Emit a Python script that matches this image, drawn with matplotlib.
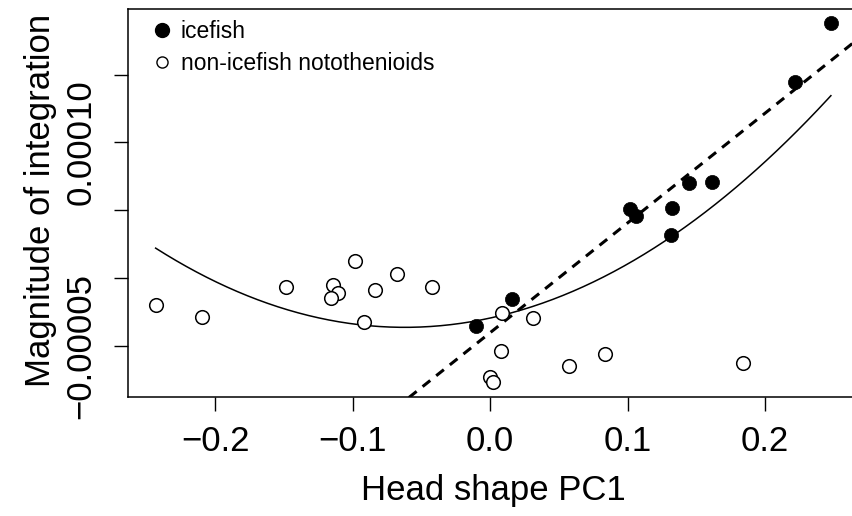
import numpy as np
import matplotlib
matplotlib.use("Agg")
import matplotlib.pyplot as plt
from matplotlib.lines import Line2D

plt.rcParams["font.family"] = ["Liberation Sans", "DejaVu Sans"]

# icefish (filled)
ice_pc1 = [0.2479, 0.2221, 0.1616, 0.1445, 0.1326, 0.1020, 0.1065, 0.1313, 0.0163, -0.0099]
ice_integ = [1.884e-4, 1.449e-4, 7.11e-5, 6.99e-5, 5.14e-5, 5.07e-5, 4.58e-5, 3.17e-5, -1.57e-5, -3.54e-5]

# non-icefish notothenioids (open)
non_pc1 = [-0.2432, -0.2098, -0.1486, -0.1139, -0.1105, -0.1156, -0.0983, -0.0918, -0.0833,
           -0.0677, -0.0425, 0.0088, 0.0309, 0.0082, 0.0000, 0.0020, 0.0575, 0.0833, 0.1840]
non_integ = [-1.99e-5, -2.85e-5, -6.4e-6, -5.2e-6, -1.13e-5, -1.50e-5, 1.28e-5, -3.27e-5, -8.9e-6,
             3.0e-6, -6.4e-6, -2.61e-5, -2.93e-5, -5.39e-5, -7.28e-5, -7.65e-5, -6.47e-5, -5.63e-5, -6.25e-5]

# fitted models
quad_vertex_x = -0.062
quad_vertex_y = -3.64e-5
quad_a = 1.78e-3
lin_slope = 8.10e-4
lin_intercept = -4.04e-5

xticks = [-0.2, -0.1, 0.0, 0.1, 0.2]
xticklabels = ["\u22120.2", "\u22120.1", "0.0", "0.1", "0.2"]
yticks = [-5e-5, 0.0, 5e-5, 1e-4, 1.5e-4]
yticklabels = ["\u22120.00005", "", "", "0.00010", ""]

W, H = 853, 516
xlim = (-0.2633, 0.2675)
ylim = (-8.78e-5, 1.985e-4)
ax_left, ax_top, ax_bottom = 128, 9, 397
ax_w = (xlim[1] - xlim[0]) * 1375

fig = plt.figure(figsize=(W / 100, H / 100), dpi=100)
ax = fig.add_axes([ax_left / W, (H - ax_bottom) / H, ax_w / W, (ax_bottom - ax_top) / H])

ax.plot(non_pc1, non_integ, "o", ms=9.8, mfc="white", mec="black", mew=1.1, ls="none", zorder=3)
ax.plot(ice_pc1, ice_integ, "o", ms=10.2, mfc="black", mec="black", mew=0.5, ls="none", zorder=3)

all_x = np.array(non_pc1 + ice_pc1)
xs = np.linspace(all_x.min(), all_x.max(), 200)
ax.plot(xs, quad_a * (xs - quad_vertex_x) ** 2 + quad_vertex_y, color="black", lw=1.1, zorder=2)

xl = np.array(xlim)
ax.plot(xl, lin_slope * xl + lin_intercept, color="black", lw=2.2, ls=(0, (3.2, 2.5)), zorder=2)

ax.set_xlim(*xlim)
ax.set_ylim(*ylim)
ax.set_xticks(xticks)
ax.set_xticklabels(xticklabels)
ax.set_yticks(yticks)
ax.set_yticklabels(yticklabels, rotation=90, va="center")
ax.tick_params(axis="both", length=10, width=1, labelsize=25, color="black")
ax.tick_params(axis="x", pad=10)
ax.tick_params(axis="y", pad=12)
for s in ax.spines.values():
    s.set_linewidth(1.1)

ax.set_xlabel("Head shape PC1", fontsize=25)
ax.set_ylabel("Magnitude of integration", fontsize=25)
ax.xaxis.set_label_coords((493 - ax_left) / ax_w, (ax_bottom - 474) / (ax_bottom - ax_top))
ax.yaxis.set_label_coords((57 - ax_left) / ax_w, (ax_bottom - 200) / (ax_bottom - ax_top))

handles = [
    Line2D([], [], marker="o", ls="none", ms=10, mfc="black", mec="black"),
    Line2D([], [], marker="o", ls="none", ms=8, mfc="white", mec="black", mew=1.0),
]
ax.legend(handles, ["icefish", "non-icefish notothenioids"], loc="upper left",
          bbox_to_anchor=((151 - ax_left) / ax_w, 1 - (20 - ax_top) / (ax_bottom - ax_top)),
          frameon=False, fontsize=16.5, borderaxespad=0, borderpad=0,
          handlelength=1.0, handletextpad=0.29, labelspacing=0.40)

fig.savefig("out.png", dpi=100)
